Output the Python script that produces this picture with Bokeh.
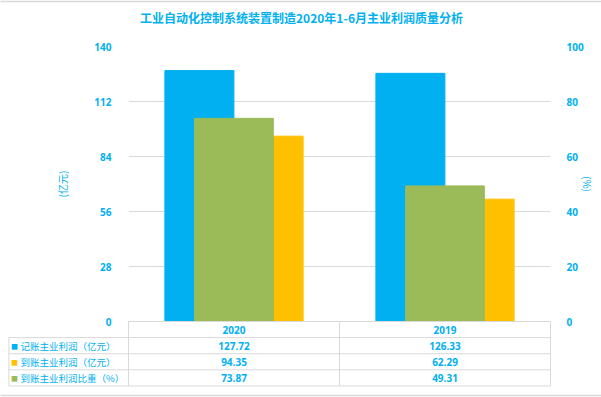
from bokeh.plotting import figure
from bokeh.models import Range1d, LinearAxis, FixedTicker, ColumnDataSource
from bokeh.transform import dodge
from bokeh.core.properties import value
from bokeh.embed import file_html
from bokeh.resources import INLINE

# ---------------- data ----------------
title_text = "工业自动化控制系统装置制造2020年1-6月主业利润质量分析"
years = ["2020", "2019"]
booked_profit = [127.72, 126.33]      # 记账主业利润（亿元）
received_profit = [94.35, 62.29]      # 到账主业利润（亿元）
received_ratio = [73.87, 49.31]       # 到账主业利润比重（%）
series_names = ["记账主业利润（亿元）", "到账主业利润（亿元）", "到账主业利润比重（%）"]
left_ticks = [0, 28, 56, 84, 112, 140]
right_ticks = [0, 20, 40, 60, 80, 100]

# ---------------- style ----------------
BLUE = "#00B0F0"
YELLOW = "#FFC000"
GREEN = "#9BBB59"
TXT = "#00B0F0"
LINE = "#D9D9D9"
CJK = "Noto Sans CJK SC"
NUM = "Open Sans"

n = len(years)
p = figure(width=601, height=397, output_backend="svg", toolbar_location=None,
           x_range=Range1d(0, n), y_range=Range1d(0, 140),
           x_axis_location=None,
           min_border_left=128, min_border_right=51,
           min_border_top=46, min_border_bottom=76)
p.outline_line_color = None
p.background_fill_color = "white"
p.border_fill_color = "white"
p.xgrid.visible = False

p.extra_y_ranges = {"pct": Range1d(0, 100)}

yl = p.yaxis[0]
yl.ticker = FixedTicker(ticks=left_ticks)
yl.axis_label = "(亿元)"
p.ygrid.ticker = FixedTicker(ticks=left_ticks)
p.ygrid.grid_line_color = LINE
p.ygrid.grid_line_width = 1

yr = LinearAxis(y_range_name="pct", ticker=FixedTicker(ticks=right_ticks), axis_label="(%)")
p.add_layout(yr, "right")

for ax, st, ls in ((yl, 11, 21), (yr, 10, -7)):
    ax.axis_line_color = None
    ax.major_tick_line_color = None
    ax.minor_tick_line_color = None
    ax.major_label_text_color = TXT
    ax.major_label_text_font = NUM
    ax.major_label_text_font_size = "10px"
    ax.major_label_text_font_style = "bold"
    ax.major_label_standoff = st
    ax.axis_label_text_color = TXT
    ax.axis_label_text_font = CJK
    ax.axis_label_text_font_size = "10px"
    ax.axis_label_text_font_style = "normal"
    ax.axis_label_standoff = ls

src = ColumnDataSource(dict(x=[i + 0.5 for i in range(n)],
                            booked=booked_profit, received=received_profit,
                            ratio=received_ratio))
p.vbar(x=dodge("x", -0.164), top="booked", width=0.327, bottom=0, source=src,
       fill_color=BLUE, line_color=BLUE)
p.vbar(x=dodge("x", 0.164), top="received", width=0.327, bottom=0, source=src,
       fill_color=YELLOW, line_color=YELLOW)
p.vbar(x="x", top="ratio", width=0.373, bottom=0, source=src, y_range_name="pct",
       fill_color=GREEN, line_color=GREEN)

# ---------------- data table below the plot ----------------
row_h = 8.2           # row height in left-axis units
lab_x0 = -0.567       # left edge of the label column
n_rows = len(series_names)
row_edges = [-(k + 1) * row_h for k in range(n_rows + 1)]
bottom = row_edges[-1]

hx0 = [0.0] + [lab_x0] * len(row_edges)
hx1 = [float(n)] * (len(row_edges) + 1)
hy = [0.0] + row_edges
p.segment(x0=hx0, y0=hy, x1=hx1, y1=hy, line_color=LINE, line_width=1, level="overlay")
vx = [lab_x0] + [float(i) for i in range(n + 1)]
vy0 = [row_edges[0]] + [0.0] * (n + 1)
vy1 = [bottom] * (n + 2)
p.segment(x0=vx, y0=vy0, x1=vx, y1=vy1, line_color=LINE, line_width=1, level="overlay")

# chart-area border lines (top and bottom of the picture)
bx0, bx1 = -128 / 211, (601 - 128) / 211
by = [(321 - 1) / 275 * 140, (321 - 395) / 275 * 140]
p.segment(x0=[bx0] * 2, y0=by, x1=[bx1] * 2, y1=by, line_color=LINE, line_width=1.5,
          level="overlay")

# header: years
p.text(x=[i + 0.5 for i in range(n)], y=[-row_h / 2] * n, text=years,
       text_font=value(NUM), text_font_size="10px", text_font_style="bold",
       text_color=TXT, text_align="center", text_baseline="middle", level="overlay")

series_vals = [booked_profit, received_profit, received_ratio]
series_cols = [BLUE, YELLOW, GREEN]
cx, cy, ct = [], [], []
for r, vals in enumerate(series_vals):
    yc = -(r + 1) * row_h - row_h / 2
    for i, v in enumerate(vals):
        cx.append(i + 0.5)
        cy.append(yc)
        ct.append(f"{v:.2f}")
p.text(x=cx, y=cy, text=ct, text_font=value(NUM), text_font_size="10px",
       text_font_style="bold", text_color=TXT, text_align="center",
       text_baseline="middle", level="overlay")

ly = [-(r + 1) * row_h - row_h / 2 for r in range(n_rows)]
p.text(x=[-0.540] * n_rows, y=ly, text=["■"] * n_rows, text_font=value(CJK),
       text_font_size="7px", text_color=series_cols, text_align="center",
       text_baseline="middle", level="overlay")
p.text(x=[-0.512] * n_rows, y=ly, text=series_names, text_font=value(CJK),
       text_font_size="9.5px", text_color=TXT, text_align="left",
       text_baseline="middle", level="overlay")

# ---------------- title ----------------
p.text(x=[(301 - 128) / 211], y=[(321 - 17) / 275 * 140], text=[title_text],
       text_font=value(CJK), text_font_size="12px", text_font_style="bold",
       text_color=TXT, text_align="center", text_baseline="middle", level="overlay")

open("out.html", "w").write(file_html(p, INLINE))
